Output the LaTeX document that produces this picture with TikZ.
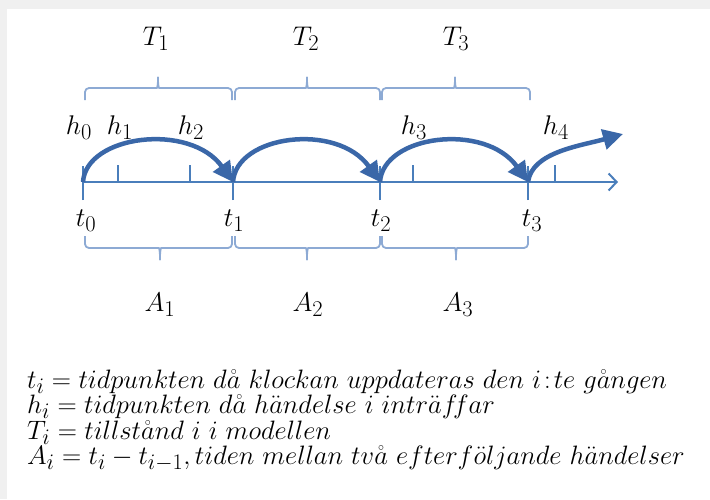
\documentclass[tikz,border=0pt]{standalone}
\usepackage{graphicx}
\usetikzlibrary{arrows.meta}
\newcommand{\mysc}[1]{\scalebox{1.085}{#1}}
\newcommand{\mylg}[1]{\scalebox{1.07}{#1}}
\begin{document}
\begin{tikzpicture}[x=1pt,y=-1pt,
  axisline/.style={draw=axisblue,line width=2pt},
  tickline/.style={draw=axisblue,line width=1.6pt},
  hop/.style={draw=arcblue,line width=4.5pt,-{Triangle[length=20pt,width=20pt]}},
  bracep/.style={draw=braceblue,line width=1.8pt,line join=round,rounded corners=4pt},
  lab/.style={inner sep=0pt,font=\fontsize{24.88}{30}\selectfont},
  legend/.style={inner sep=0pt,anchor=base west,font=\fontsize{24.88}{28}\selectfont}]
\definecolor{axisblue}{HTML}{4A7EBB}
\definecolor{arcblue}{HTML}{3A67A8}
\definecolor{braceblue}{HTML}{8DAAD4}
\definecolor{frame}{HTML}{F0F0F0}
% background
\fill[frame] (0,0) rectangle (710,499);
\fill[white] (7,9) rectangle (710,499);
\useasboundingbox (0,0) rectangle (710,499);
% points
\coordinate (t0) at (83,182);
\coordinate (t1) at (233,182);
\coordinate (t2) at (380,182);
\coordinate (t3) at (528,182);
\coordinate (axend) at (618,182);
\coordinate (hend) at (623,134);
% axis
\draw[axisline,-{Straight Barb[length=8pt,width=17pt,line width=2pt]}] (t0) -- (axend);
\foreach \p in {t0,t1,t2,t3}{\draw[tickline] ([yshift=-18pt]\p) -- ([yshift=16pt]\p);}
\foreach \x in {118,190,413,555}{\draw[tickline] (\x,165) -- (\x,182);}
% hops
\draw[hop] (t0) .. controls (86,135) and (190,122) .. (t1);
\draw[hop] (t1) .. controls (236,135) and (337,122) .. (t2);
\draw[hop] (t2) .. controls (383,135) and (485,122) .. (t3);
\draw[hop] (t3) .. controls (532,152) and (580,146) .. (hend);
% upper braces
\foreach \xa/\xm/\xb in {85/158/232, 235/307/380, 382/455/530}{
  \draw[bracep] (\xa,100) |- (\xm-5,88)
     .. controls (\xm-1,88) and (\xm,86) .. (\xm,75)
     .. controls (\xm,86) and (\xm+1,88) .. (\xm+5,88)
     -| (\xb,100);
}
% lower braces
\foreach \xa/\xm/\xb in {85/160/232, 235/307/380, 382/456/528}{
  \draw[bracep] (\xa,236) |- (\xm-5,248)
     .. controls (\xm-1,248) and (\xm,250) .. (\xm,262)
     .. controls (\xm,250) and (\xm+1,248) .. (\xm+5,248)
     -| (\xb,236);
}
% labels
\node[lab] (T1) at (156,39) {\mysc{$T_1$}};
\node[lab] (T2) at (306,39) {\mysc{$T_2$}};
\node[lab] (T3) at (456,39) {\mysc{$T_3$}};
\node[lab] (h0) at (79,128) {\mysc{$h_0$}};
\node[lab] (h1) at (120,128) {\mysc{$h_1$}};
\node[lab] (h2) at (191,128) {\mysc{$h_2$}};
\node[lab] (h3) at (414,128) {\mysc{$h_3$}};
\node[lab] (h4) at (556,128) {\mysc{$h_4$}};
\node[lab] (lt0) at (86,221) {\mysc{$t_0$}};
\node[lab] (lt1) at (234,221) {\mysc{$t_1$}};
\node[lab] (lt2) at (381,221) {\mysc{$t_2$}};
\node[lab] (lt3) at (532,221) {\mysc{$t_3$}};
\node[lab] (A1) at (160,305) {\mysc{$A_1$}};
\node[lab] (A2) at (308,305) {\mysc{$A_2$}};
\node[lab] (A3) at (458,305) {\mysc{$A_3$}};
% legend
\node[legend] (L1) at (27,388) {\mylg{$t_i = tidpunkten\ d\mathring{a}\ klockan\ uppdateras\ den\ i\!:\!te\ g\mathring{a}ngen$}};
\node[legend] (L2) at (27,413) {\mylg{$h_i = tidpunkten\ d\mathring{a}\ h\ddot{a}ndelse\ i\ intr\ddot{a}f\!f ar$}};
\node[legend] (L3) at (27,439) {\mylg{$T_i = tillst\mathring{a}nd\ i\ i\ modellen$}};
\node[legend] (L4) at (27,464) {\mylg{$A_i = t_i - t_{i-1}, tiden\ mellan\ tv\mathring{a}\ efterf\ddot{o}ljande\ h\ddot{a}ndelser$}};
\end{tikzpicture}
\end{document}
